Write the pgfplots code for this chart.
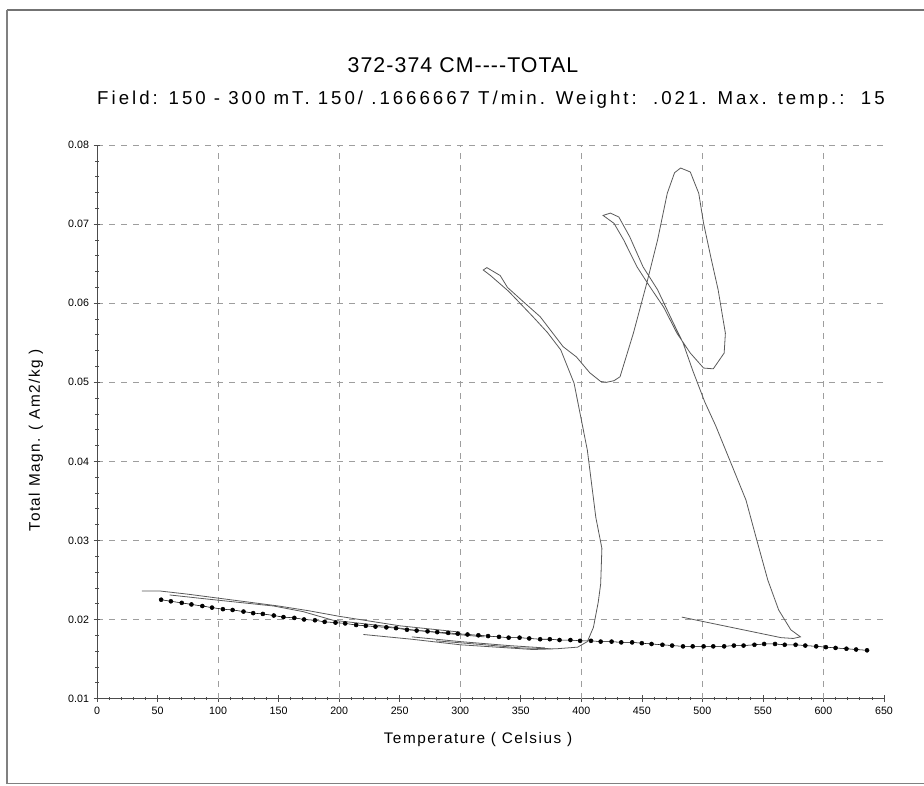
\documentclass[border=0pt]{standalone}
\usepackage{fontspec}
\setmainfont{Liberation Sans}
\usepackage{pgfplots}
\pgfplotsset{compat=1.18}
\definecolor{curve}{gray}{0.35}
\definecolor{gridc}{gray}{0.62}
\begin{document}
\begin{tikzpicture}[x=1pt,y=1pt]
\useasboundingbox (-72.75,-64.9) rectangle (620.25,523.9);
\draw[black!55, line width=1.3pt] (-67.5,516.4) -- (625,516.4);
\draw[black!50, line width=0.8pt] (-67.5,516.4) -- (-67.5,-63.4) -- (625,-63.4);
\node[font={\fontsize{16}{19}\selectfont\addfontfeature{LetterSpace=5}}] at (274.5,475.1) {372{-}374 CM{-}{-}{-}{-}TOTAL};
\node[font={\fontsize{14}{17}\selectfont\addfontfeature{LetterSpace=16}}] at (295.5,448.9) {Field: 150 {-} 300 mT. 150/ .1666667 T/min. Weight:\ \ .021. Max. temp.:\ \ 15};
\node[font={\fontsize{11.5}{14}\selectfont\addfontfeature{LetterSpace=10}}] at (285.75,-31.1) {Temperature ( Celsius )};
\node[rotate=90,font={\fontsize{11.5}{14}\selectfont\addfontfeature{LetterSpace=10}}] at (-45.75,193.9) {Total Magn. ( Am2/kg )};
\begin{axis}[
  at={(0,0)}, anchor=south west, scale only axis,
  width=590.25pt, height=415.1pt,
  xmin=0, xmax=650, ymin=0.01, ymax=0.08,
  axis x line*=bottom, axis y line*=left,
  axis line style={black!70, line width=0.6pt},
  xtick={0,50,...,650},
  ytick={0.01,0.02,...,0.08},
  minor x tick num=4, minor y tick num=4,
  tick align=center,
  major tick length=5pt, minor tick length=2.5pt,
  tick style={black!70, line width=0.5pt},
  extra x ticks={100,200,300,400,500,600},
  extra x tick labels={},
  extra x tick style={grid=major, major tick length=0pt},
  ymajorgrids,
  major grid style={gridc, line width=0.5pt, dash pattern=on 4.5pt off 4.5pt},
  scaled y ticks=false,
  yticklabel style={/pgf/number format/fixed, /pgf/number format/fixed zerofill, /pgf/number format/precision=2, font=\fontsize{8}{9}\selectfont},
  xticklabel style={font=\fontsize{8}{9}\selectfont},
  /pgf/number format/assume math mode=true,
  clip=false,
]
% dotted curve
\addplot[black, line width=0.4pt, mark=*, mark size=1.5pt] coordinates {
(53,.0225)(61,.0223)(70,.0221)(78,.0219)(87,.0217)(95,.0215)(104,.0213)(112,.0212)(121,.0210)(129,.0208)
(137,.0207)(146,.0205)(154,.0203)(163,.0202)(171,.0200)(180,.0199)(188,.0197)(197,.0196)(205,.0195)(214,.0193)
(222,.0192)(230,.0191)(239,.0190)(247,.0189)(256,.0187)(264,.0186)(273,.0185)(281,.0184)(290,.0183)(298,.0182)
(306,.0181)(315,.0180)(323,.0179)(332,.0178)(340,.0177)(349,.0177)(357,.0176)(366,.0175)(374,.0175)(382,.0174)
(391,.0174)(399,.0173)(408,.0173)(416,.0172)(425,.0172)(433,.0171)(442,.0171)(450,.0170)(458,.0169)(467,.0168)
(475,.0167)(484,.0166)(492,.0166)(501,.0166)(509,.0166)(518,.0166)(526,.0167)(534,.0167)(543,.0168)(551,.0169)
(560,.0169)(568,.0168)(577,.0168)(585,.0167)(594,.0166)(602,.0165)(610,.0164)(619,.0163)(627,.0162)(636,.0161)
};
% upper left solid line
\addplot[curve, line width=0.6pt] coordinates {
(37,.0236)(52,.0236)(75,.0232)(100,.0227)(125,.0222)(150,.0217)(175,.0211)(200,.0204)(225,.0198)(250,.0192)(275,.0188)(300,.0184)
};
\addplot[curve, line width=0.6pt] coordinates {
(60,.0231)(90,.0226)(121,.0221)(146,.0217)(170,.0210)(195,.0199)(230,.0193)(260,.0187)(290,.0182)(320,.0178)
};
% lower bundle
\addplot[curve, line width=0.6pt] coordinates {
(260,.0178)(300,.0172)(340,.0167)(370,.0164)
};
\addplot[curve, line width=0.6pt] coordinates {
(280,.0173)(320,.0168)(350,.0164)(375,.0163)
};
% main loop curve
\addplot[curve, line width=0.6pt] coordinates {
(220,.0181)(260,.0175)(300,.0168)(330,.0165)(360,.0162)(380,.0163)(397,.0165)(405,.0172)(410,.0190)(414,.0222)
(416,.0245)(417,.0290)(412,.0329)(405,.0414)(394,.0499)(383,.0541)(372,.0563)(360,.0583)(340,.0615)(325,.0635)(319,.0642)
(322,.0645)(333,.0635)(339,.0620)(352,.0602)(366,.0583)(385,.0545)(396,.0532)(407,.0512)(416,.0501)(421,.0500)(427,.0502)(432,.0507)
(443,.0562)(454,.0625)(463,.0680)(471,.0739)(477,.0765)(482,.0771)(490,.0766)(497,.0739)(501,.0701)(507,.0658)
(513,.0617)(519,.0562)(518,.0537)(509,.0517)(501,.0518)(490,.0537)(479,.0562)(468,.0595)(457,.0620)(446,.0646)
(435,.0680)(427,.0701)(418,.0711)(424,.0714)(431,.0709)(440,.0684)(451,.0646)(463,.0617)(476,.0575)(484,.0550)
(492,.0515)(502,.0475)(511,.0445)(523,.0400)(536,.0351)(545,.0300)(554,.0250)(563,.0212)(573,.0187)(581,.0178)(575,.0176)
(565,.0177)(483,.0203)
};
\end{axis}
\end{tikzpicture}
\end{document}
